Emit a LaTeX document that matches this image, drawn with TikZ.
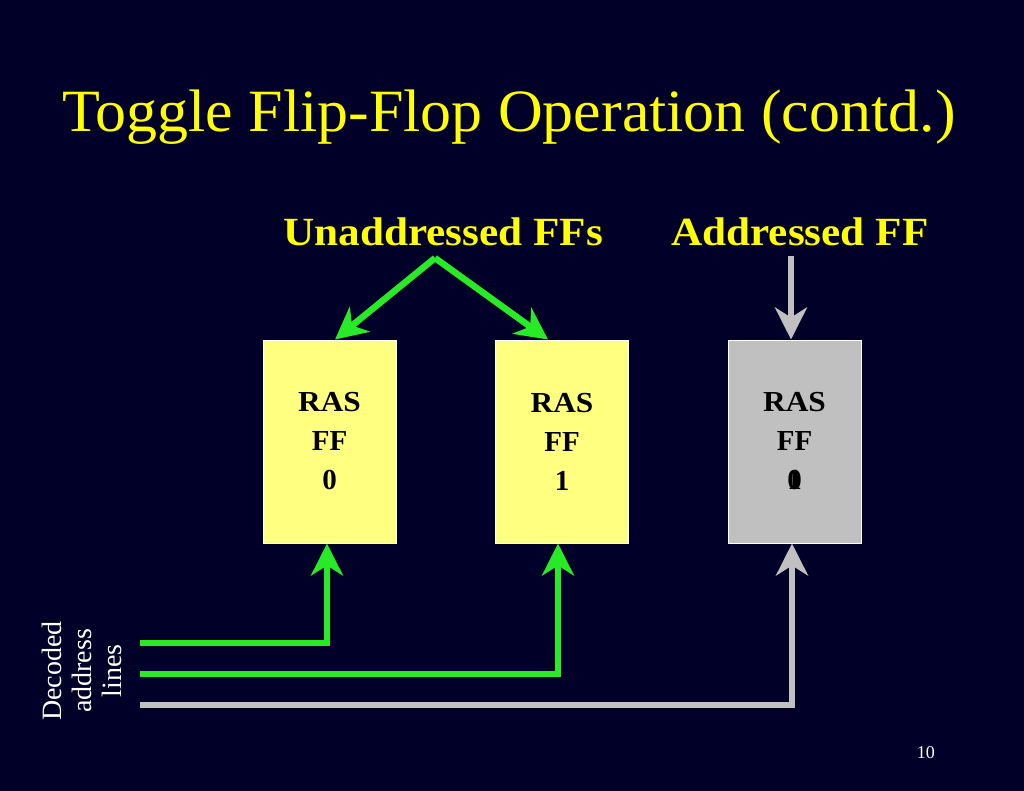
\documentclass[tikz,border=0pt]{standalone}
\usepackage{fontspec}
\setmainfont{Liberation Serif}
\usetikzlibrary{arrows.meta}
\definecolor{bg}{RGB}{0,0,40}
\definecolor{ttl}{RGB}{255,255,0}
\definecolor{boxy}{RGB}{255,255,128}
\definecolor{boxg}{RGB}{192,192,192}
\definecolor{grn}{RGB}{40,235,40}
\definecolor{gry}{RGB}{192,192,192}
\tikzset{
  ffbox/.style={draw=white, line width=1pt, minimum width=133pt, minimum height=203pt,
    inner sep=0pt, align=center, font=\fontsize{29}{39}\selectfont\bfseries, text=black},
  wire/.style={line width=6.5pt, line join=miter},
  bigtip/.style={-{Stealth[length=32pt,width=32pt,inset=10pt]}},
  head/.style={anchor=base west, text=ttl, font=\fontsize{40}{44}\selectfont\bfseries, inner sep=0pt, xscale=1.08},
}
\begin{document}
\begin{tikzpicture}[x=1pt,y=-1pt]
\fill[bg] (0,0) rectangle (1024,791);
\useasboundingbox (0,0) rectangle (1024,791);
\node[anchor=base west, text=ttl, font=\fontsize{60}{70}\selectfont, inner sep=0pt, xscale=1.032] (title) at (62,132) {Toggle Flip-Flop Operation (contd.)};
\node[head] (unad) at (283,246) {Unaddressed FFs};
\node[head] (addr) at (671,246) {Addressed FF};
\node[ffbox, fill=boxy] (ff0) at (329.5,441.5) {\scalebox{1.08}[1]{RAS}\\FF\\0};
\node[ffbox, fill=boxy] (ff1) at (562,441.5) {\scalebox{1.08}[1]{RAS}\\FF\\1};
\node[ffbox, fill=boxg] (ff2) at (794.5,441.5) {\scalebox{1.08}[1]{RAS}\\FF\\\makebox[0pt]{1}\makebox[0pt]{0}};
\coordinate (apex) at (435,258);
\coordinate (gtop) at (791,256);
\draw[wire, grn, bigtip] (apex) -- (ff0.north -| 335,0);
\draw[wire, grn, bigtip] (apex) -- (ff1.north -| 548,0);
\draw[wire, gry, bigtip] (gtop) -- (ff2.north -| 791,0);
\coordinate (l0) at (140,643);
\coordinate (l1) at (140,674);
\coordinate (l2) at (140,705);
\draw[wire, grn, bigtip] (l0) -- (327,643) -- (ff0.south -| 327,0);
\draw[wire, grn, bigtip] (l1) -- (558,674) -- (ff1.south -| 558,0);
\draw[wire, gry, bigtip] (l2) -- (792,705) -- (ff2.south -| 792,0);
\node[rotate=90, text=white, align=center, font=\fontsize{28}{30}\selectfont, inner sep=0pt] (dal) at (82,671) {Decoded\\address\\lines};
\node[anchor=base east, text=white, font=\fontsize{18}{20}\selectfont, inner sep=0pt] (pg) at (935,758) {10};
\end{tikzpicture}
\end{document}
